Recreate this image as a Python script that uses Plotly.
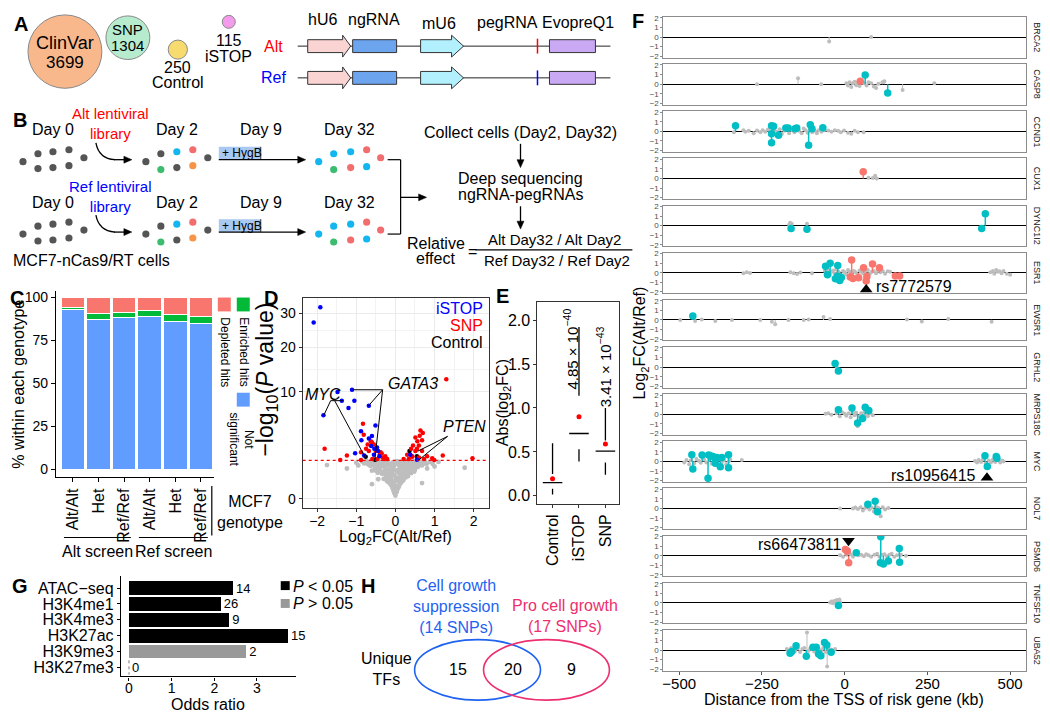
import plotly.graph_objects as go

# ======================= DATA =======================
# Panel A - library sizes
lib_names = ["ClinVar", "SNP", "Control", "iSTOP"]
lib_sizes = [3699, 1304, 250, 115]

# Panel C - % within each genotype
c_genotypes = ["Alt/Alt", "Het", "Ref/Ref", "Alt/Alt", "Het", "Ref/Ref"]
c_not_significant = [93.0, 87.3, 88.4, 88.8, 85.9, 84.9]
c_enriched = [1.0, 3.4, 2.7, 3.5, 4.3, 4.3]
c_depleted = [6.0, 9.3, 8.9, 7.7, 9.8, 10.8]

# Panel D - volcano (log2FC, -log10 P)
d_threshold = 1.301
d_istop_x = [-1.92, -2.09, -1.11, -1.48, -1.37, -1.05, -1.2, -1.84, -0.68, -0.51, -0.88, -0.6, -0.68,
             -0.62, -0.47, -0.54, -0.44, -0.41, -1.03, -0.8, -0.55, 0.38, 0.55, -0.87]
d_istop_y = [32.1, 27.2, 10.4, 10.0, 8.4, 8.4, 7.2, 6.1, 7.6, 4.7, 4.0, 3.45, 3.2,
             2.44, 2.3, 2.2, 2.0, 1.6, 1.82, 1.65, 1.7, 1.7, 1.35, 3.0]
d_snp_x = [1.3, -1.81, -1.41, -0.88, -0.83, -0.81, -1.24, -0.71, -0.63, -0.75, -0.88, -0.68, -0.38, -0.33,
           -0.29, -0.21, -0.46, -0.59, -0.26, 0.64, 0.56, 0.68, 0.45, 0.6, 0.51, 0.68, 0.3, 0.43, 0.34,
           0.21, 0.73, 0.94, 0.99, 1.21, 1.97, 0.51, 0.43, 0.6, 0.81, -0.55, -0.5, -0.4, 0.4, 0.62, 0.7,
           0.55, -0.35, -0.6]
d_snp_y = [12.5, 2.2, 1.33, 1.33, 4.93, 3.6, 1.64, 2.6, 2.9, 2.2, 1.9, 2.0, 1.9, 1.5,
           1.4, 1.4, 1.4, 1.4, 1.6, 4.1, 2.9, 3.0, 2.5, 2.5, 2.0, 2.0, 1.7, 1.55, 1.4,
           1.4, 1.4, 1.45, 1.33, 1.65, 1.45, 3.3, 1.6, 1.5, 1.6, 2.6, 2.0, 1.7, 2.2, 3.5, 3.8,
           2.2, 1.8, 2.8]
d_control_x = [-0.76, -0.52, 0.36, 0.55]
d_control_y = [1.55, 1.35, 2.0, 1.6]
d_gray_x = [-0.85, -0.8, -0.74, -0.7, -0.66, -0.62, -0.58, -0.55, -0.5, -0.47, -0.44, -0.4, -0.37, -0.34,
            -0.3, -0.27, -0.24, -0.2, -0.17, -0.15, 0.15, 0.18, 0.21, 0.24, 0.27, 0.3, 0.33, 0.36, 0.4,
            0.43, 0.47, 0.5, 0.54, 0.58, 0.62, 0.66, 0.7, 0.75, 0.8, 0.88, -0.6, -0.52, -0.45, -0.4,
            -0.34, -0.3, -0.25, -0.22, -0.18, -0.14, -0.12, -0.1, 0.1, 0.13, 0.16, 0.2, 0.23, 0.27, 0.3,
            0.34, 0.38, 0.44, 0.5, 0.58, -0.3, -0.22, -0.18, -0.14, -0.1, -0.07, -0.05, -0.03, 0.0, 0.03,
            0.05, 0.08, 0.11, 0.15, 0.2, 0.26, 0.32, -0.08, 0.08, -0.02, 0.02, 0.0, -0.05, 0.05, -0.1,
            0.1, 0.02, -0.03, 0.04, -0.08, 0.07, -0.12, 0.12, -1.75, -1.24, 1.77, 0.68, -0.6, 0.81,
            -0.44, -0.95, 1.0, 0.95, -1.0, 1.1,
            -0.72, -0.64, -0.56, -0.48, -0.42, -0.36, -0.29, -0.22, -0.16, -0.08, -0.02, 0.04, 0.09, 0.13,
            0.19, 0.26, 0.32, 0.38, 0.45, 0.52, 0.6, 0.68, 0.74, -0.5, -0.38, -0.26, -0.16, -0.06, 0.06,
            0.16, 0.24, 0.4, 0.48, -0.2, -0.12, 0.0, 0.12, 0.22, -0.04, 0.04]
d_gray_y = [1.22, 1.1, 1.25, 1.05, 1.18, 1.27, 1.0, 1.15, 1.25, 0.95, 1.1, 1.22, 0.9, 1.05,
            1.2, 0.85, 1.0, 1.15, 0.75, 0.95, 0.8, 1.0, 1.2, 0.9, 1.1, 1.25, 0.95, 1.15, 1.05,
            1.25, 0.98, 1.18, 1.1, 1.27, 1.02, 1.2, 1.12, 1.25, 1.08, 1.2, 0.7, 0.8, 0.6, 0.72,
            0.55, 0.65, 0.5, 0.6, 0.45, 0.55, 0.38, 0.3, 0.32, 0.45, 0.55, 0.62, 0.5, 0.7, 0.6,
            0.78, 0.68, 0.85, 0.75, 0.9, 0.35, 0.28, 0.25, 0.2, 0.15, 0.1, 0.06, 0.03, 0.01, 0.04,
            0.08, 0.12, 0.18, 0.24, 0.3, 0.4, 0.45, 0.22, 0.26, 0.12, 0.15, 1.1, 0.9, 1.2, 1.0,
            0.95, 0.7, 0.5, 0.4, 0.65, 0.6, 0.8, 0.75, 1.0, 0.81, 0.85, 0.22, 0.19, 0.81,
            0.34, 0.98, 0.92, 1.08, 1.15, 1.2,
            1.12, 0.95, 1.08, 1.2, 0.85, 1.12, 0.98, 1.25, 1.05, 1.15, 1.0, 1.25, 1.1, 1.2,
            0.9, 1.0, 1.15, 0.88, 1.08, 0.95, 1.15, 0.98, 1.1, 0.7, 0.62, 0.75, 0.66, 0.8, 0.72,
            0.85, 0.8, 0.58, 0.65, 0.38, 0.45, 0.35, 0.38, 0.42, 0.22, 0.3]

# Panel E - Abs(log2FC) summary
e_groups = ["Control", "iSTOP", "SNP"]
e_min = [0.015, 0.39, 0.24]
e_q1 = [0.08, 0.53, 0.38]
e_median = [0.15, 0.71, 0.51]
e_q3 = [0.25, 1.14, 0.63]
e_max = [0.60, 1.92, 1.00]
e_mean = [0.195, 0.90, 0.59]
e_pvals = ["", "4.85 × 10<sup>−40</sup>", "3.41 × 10<sup>−43</sup>"]

# Panel G - odds ratios
g_marks = ["ATAC−seq", "H3K4me1", "H3K4me3", "H3K27ac", "H3K9me3", "H3K27me3"]
g_odds = [2.44, 2.15, 2.35, 3.73, 2.75, 0.0]
g_counts = [14, 26, 9, 15, 2, 0]
g_significant = [True, True, True, True, False, False]

# Panel H - unique TFs
h_sets = ["Cell growth<br>suppression<br>(14 SNPs)", "Pro cell growth<br>(17 SNPs)"]
h_counts = [15, 20, 9]

# Panel F - facets (distance kb, log2FC)
f_genes = ["BRCA2", "CASP8", "CCND1", "CUX1", "DYNC1I2", "ESR1", "EWSR1", "GRHL2",
           "MRPS18C", "MYC", "NOL7", "PSMD6", "TNFSF10", "UBA52"]
brca2_gray = [(-47, -0.48), (80, 0.0)]
brca2_teal = []
brca2_red = []
casp8_gray = [(-265, 0), (-141, 0.62), (-71, 0), (5, 0.1), (10, -0.15), (15, 0.2), (20, -0.3), (25, 0.1),
              (30, 0.25), (35, -0.1), (40, 0.15), (45, -0.2), (52, 0.3), (58, 0.1), (66, -0.15), (72, 0.2),
              (80, 0.1), (88, -0.25), (95, -0.4), (102, 0.05), (114, 0.2), (120, 0.3), (175, -0.6), (271, 0.1)]
casp8_teal = [(62, 0.97), (130, -0.93)]
casp8_red = [(47, 0.31)]
ccnd1_gray = [(-335, -0.1), (-306, 0.1), (-300, -0.05), (-290, 0.05), (-275, -0.2), (-265, 0.08), (-255, -0.1),
              (-248, 0.12), (-240, -0.05), (-232, 0.2), (-225, -0.15), (-212, 0.1), (-205, -0.05), (-196, 0.22),
              (-190, -0.25), (-182, 0.05), (-175, 0.3), (-168, -0.2), (-160, 0.15), (-152, -0.1), (-146, 0.25),
              (-138, 0.05), (-130, -0.2), (-124, 0.3), (-118, 0.1), (-112, -0.15), (-105, 0.2), (-98, -0.1),
              (-90, 0.05), (-84, -0.2), (-78, 0.12), (-70, -0.05), (-62, 0.1), (-50, 0.08), (-40, -0.05),
              (-30, 0.1), (-20, 0.05), (-12, -0.1), (-2, 0.08), (10, -0.15), (20, -0.25), (30, 0.05),
              (40, -0.1), (57, -0.1)]
ccnd1_teal = [(-330, 0.59), (-221, 0.59), (-215, 0.52), (-221, -0.24), (-221, -1.2), (-200, -0.41),
              (-178, 0.34), (-171, 0.34), (-150, 0.28), (-145, 0.34), (-104, 0.69), (-99, 0.28),
              (-109, -1.45), (-66, 0.38)]
ccnd1_red = []
cux1_gray = [(72, 0.07), (85, 0.05), (92, 0.28), (97, 0.0)]
cux1_teal = []
cux1_red = [(56, 0.69)]
dync1i2_gray = [(-168, 0.1), (-165, 0.3), (-160, 0.2), (-114, 0.2)]
dync1i2_teal = [(-162, -0.31), (-114, -0.38), (414, -0.31), (425, 1.24)]
dync1i2_red = []
esr1_gray = [(-306, -0.05), (-296, 0.05), (-286, -0.03), (-164, 0.05), (-154, -0.05), (-144, -0.12),
             (-134, 0.02), (-99, -0.05), (-60, 0.2), (-55, -0.1), (-50, 0.3), (-45, -0.2), (-40, 0.1),
             (-35, 0.25), (-30, -0.1), (-25, 0.35), (-18, 0.1), (-12, -0.2), (-5, 0.2), (0, 0.05),
             (5, -0.15), (10, 0.3), (15, 0.1), (22, -0.1), (28, 0.2), (33, 0.05), (38, -0.2), (45, 0.25),
             (50, 0.1), (55, -0.05), (62, 0.15), (70, 0.3), (76, -0.1), (82, 0.1), (88, 0.2), (95, -0.05),
             (100, 0.3), (108, 0.05), (115, 0.2), (122, -0.1), (130, 0.15), (137, 0.1), (440, 0.05),
             (448, 0.2), (452, -0.1), (458, 0.3), (462, 0.1), (468, 0.15), (474, -0.05), (480, 0.2),
             (490, -0.1), (500, -0.2)]
esr1_teal = [(-58, 0.69), (-44, 1.0), (-21, 0.76), (-52, -0.21), (-28, -0.62), (-15, -0.8), (-10, -0.5),
             (-22, -0.38)]
esr1_red = [(21, 1.34), (17, -0.45), (25, -0.6), (42, -0.52), (57, 0.52), (67, -0.38), (65, -0.86),
            (84, 0.93), (105, 0.52), (153, -0.34), (166, -0.34)]
ewsr1_gray = [(-497, 0), (-452, -0.1), (-432, 0.05), (-391, -0.1), (-341, 0), (-255, 0), (-220, -0.2),
              (-210, -0.45), (-170, 0), (-124, 0), (-109, 0.05), (-64, 0.3), (-44, 0.1), (188, 0.05),
              (233, -0.15), (313, 0.1), (444, -0.2)]
ewsr1_teal = [(-459, 0.41)]
ewsr1_red = []
grhl2_gray = [(-24, 0.05)]
grhl2_teal = [(-29, 0.38), (-19, -0.41)]
grhl2_red = []
mrps18c_gray = [(-58, 0.05), (-50, 0.1), (-40, -0.05), (-25, 0.1), (-15, -0.2), (-8, 0.2), (0, 0.05),
                (5, -0.15), (12, 0.1), (18, -0.3), (25, 0.2), (30, -0.1), (35, 0.15), (39, -1.24),
                (45, -0.2), (50, 0.1), (55, -0.1), (60, 0.25), (65, 0.0), (70, -0.2), (78, 0.1), (85, -0.1)]
mrps18c_teal = [(-19, 0.48), (22, 0.66), (39, -0.9), (54, -0.45), (62, 0.72), (73, 0.38)]
mrps18c_red = []
myc_gray = [(-485, -0.1), (-478, 0.15), (-470, -0.3), (-465, 0.1), (-455, -0.2), (-448, 0.25), (-440, 0.05),
            (-435, -0.15), (-425, 0.2), (-418, -0.1), (-410, 0.15), (-402, -0.25), (-395, 0.1),
            (-388, -0.05), (-380, 0.2), (-372, -0.15), (-365, 0.1), (-358, -0.3), (-350, 0.05),
            (-346, 0.2), (-311, 0.14), (394, 0.05), (400, -0.1), (405, 0.15), (412, -0.05), (418, 0.2),
            (426, -0.2), (436, 0.1), (442, -0.1), (448, 0.2), (455, -0.05), (462, 0.15), (470, -0.1),
            (476, 0.1), (480, 0.0)]
myc_teal = [(-462, 0.69), (-459, -0.79), (-431, 0.66), (-413, -1.76), (-411, 0.66), (-406, 0.6),
            (-398, 0.52), (-391, -0.2), (-386, 0.41), (-376, -0.55), (-371, 0.41), (-351, 0.69),
            (-351, -0.66), (424, 0.59), (431, -0.52), (458, 0.52), (460, 0.34)]
myc_red = []
nol7_gray = [(-14, 0.0), (25, 0.0), (32, 0.1), (40, -0.05), (48, 0.15), (55, -0.2), (62, 0.05), (68, 0.2),
             (75, -0.1), (82, 0.1), (88, -0.3), (95, 0.2), (102, 0.05), (109, -0.8), (115, 0.15),
             (122, -0.1), (132, 0.05)]
nol7_teal = [(70, 0.45), (92, 0.76), (99, -0.34)]
nol7_red = []
psmd6_gray = [(-14, 0.05), (-5, -0.1), (5, 0.1), (18, 0.15), (25, -0.1), (30, 0.2), (42, 0.05), (50, 0.1),
              (58, -0.05), (65, 0.15), (72, 0.05), (80, -0.1), (90, 0.1), (98, 0.2), (105, -0.1),
              (112, 0.1), (120, 0.15), (128, -0.05), (135, 0.1), (142, 0.2), (150, -0.1), (158, 0.05),
              (170, 0.1), (185, 0.0)]
psmd6_teal = [(35, 0.31), (109, 1.97), (108, -0.72), (117, -0.86), (132, -0.55), (165, 0.76), (166, -0.69)]
psmd6_red = [(2, 0.66), (8, 0.48), (12, -0.72)]
tnfsf10_gray = [(-44, 0.05), (-40, 0.15), (-36, -0.05), (-32, 0.2), (-28, 0.1), (-24, 0.3), (-20, 0.15),
                (-16, 0.35), (-14, 0.1)]
tnfsf10_teal = [(-19, -0.28)]
tnfsf10_red = []
uba52_gray = [(-175, 0.1), (-170, -0.2), (-162, 0.2), (-155, 0.05), (-150, -0.1), (-142, 0.15),
              (-135, -0.2), (-128, 0.1), (-122, 0.2), (-114, 1.83), (-110, -0.1), (-104, 0.15),
              (-98, 0.05), (-92, -0.15), (-85, 0.2), (-78, 0.1), (-70, -0.05), (-65, 0.2), (-58, -0.2),
              (-53, -1.72), (-48, 0.1), (-40, 0.05), (-35, -0.1), (-29, 0.1)]
uba52_teal = [(-165, -0.34), (-160, -0.14), (-147, 0.45), (-116, -0.66), (-96, 0.28), (-86, 0.28),
              (-79, -0.41), (-72, -0.59), (-61, 0.79), (-54, 0.52), (-41, -0.24)]
uba52_red = []

f_gray = [brca2_gray, casp8_gray, ccnd1_gray, cux1_gray, dync1i2_gray, esr1_gray, ewsr1_gray, grhl2_gray,
          mrps18c_gray, myc_gray, nol7_gray, psmd6_gray, tnfsf10_gray, uba52_gray]
f_teal = [brca2_teal, casp8_teal, ccnd1_teal, cux1_teal, dync1i2_teal, esr1_teal, ewsr1_teal, grhl2_teal,
          mrps18c_teal, myc_teal, nol7_teal, psmd6_teal, tnfsf10_teal, uba52_teal]
f_red = [brca2_red, casp8_red, ccnd1_red, cux1_red, dync1i2_red, esr1_red, ewsr1_red, grhl2_red,
         mrps18c_red, myc_red, nol7_red, psmd6_red, tnfsf10_red, uba52_red]
# highlighted SNPs: (gene index, kb, log2FC position of marker, label, direction)
f_snp_marks = [(5, 65, -1.75, "rs7772579", "up"), (9, 430, -1.7, "rs10956415", "up"),
               (11, 11.5, 1.55, "rs66473811", "down")]

# ======================= HELPERS =======================
W, H = 1050, 722
FONT = "Liberation Sans, Arial, Helvetica, sans-serif"
shapes, annotations = [], []


def X(p):
    return p / W


def Y(p):
    return 1 - p / H


def text(x, y, s, size=16, color="black", xa="center", ya="middle", angle=0, bold=False):
    if bold:
        s = "<b>" + s + "</b>"
    annotations.append(dict(x=X(x), y=Y(y), xref="paper", yref="paper", text=s, showarrow=False,
                            font=dict(size=size, color=color, family=FONT), xanchor=xa, yanchor=ya,
                            textangle=angle, borderpad=0))


def line(x0, y0, x1, y1, color="black", width=1.2, dash=None):
    shapes.append(dict(type="line", xref="paper", yref="paper", x0=X(x0), y0=Y(y0), x1=X(x1), y1=Y(y1),
                       line=dict(color=color, width=width, dash=dash)))


def rect(x0, y0, x1, y1, fill, lc="#333333", lw=1):
    shapes.append(dict(type="rect", xref="paper", yref="paper", x0=X(x0), y0=Y(y1), x1=X(x1), y1=Y(y0),
                       fillcolor=fill, line=dict(color=lc, width=lw)))


def circle(cx, cy, r, fill, lc="#888888", lw=1):
    shapes.append(dict(type="circle", xref="paper", yref="paper", x0=X(cx - r), x1=X(cx + r),
                       y0=Y(cy + r), y1=Y(cy - r), fillcolor=fill, line=dict(color=lc, width=lw)))


def ellipse(x0, y0, x1, y1, color, lw=1.6):
    shapes.append(dict(type="circle", xref="paper", yref="paper", x0=X(x0), x1=X(x1), y0=Y(y1), y1=Y(y0),
                       fillcolor="rgba(0,0,0,0)", line=dict(color=color, width=lw)))


def path(d, fill="rgba(0,0,0,0)", lc="#333333", lw=1):
    shapes.append(dict(type="path", xref="paper", yref="paper", path=d, fillcolor=fill,
                       line=dict(color=lc, width=lw)))


def poly(points, fill, lc="#333333", lw=1):
    d = "M " + " L ".join(f"{X(a):.5f},{Y(b):.5f}" for a, b in points) + " Z"
    path(d, fill, lc, lw)


def arrow(x0, y0, x1, y1, width=1.3, color="black", hl=8, hw=3.5):
    dx, dy = x1 - x0, y1 - y0
    L = (dx * dx + dy * dy) ** 0.5
    ux, uy = dx / L, dy / L
    bx, by = x1 - ux * hl, y1 - uy * hl
    line(x0, y0, bx + ux * 1, by + uy * 1, color, width)
    nx, ny = -uy, ux
    poly([(x1, y1), (bx + nx * hw, by + ny * hw), (bx - nx * hw, by - ny * hw)], color, lc=color, lw=0.5)


# ======================= PANEL A =======================
text(20, 21, "A", 20, bold=True)
lib_colors = ["#F9B88C", "#B7EBCD", "#F8DB6F", "#F29CEB"]
r_max = 37
lib_centers = [(64, 49), (127, 35), (177, 47), (228, 19)]
for name, n, col, (cx, cy) in zip(lib_names, lib_sizes, lib_colors, lib_centers):
    circle(cx, cy, r_max * (n / lib_sizes[0]) ** 0.5, col)
text(64, 40, lib_names[0], 18)
text(64, 60, str(lib_sizes[0]), 17)
text(127, 27, lib_names[1], 15)
text(127, 43, str(lib_sizes[1]), 15)
text(177, 65, str(lib_sizes[2]), 16)
text(177, 80, lib_names[2], 16)
text(228, 38, str(lib_sizes[3]), 16)
text(228, 54, lib_names[3], 16)

for yc, lab, col, tick in [(43.5, "Alt", "red", "red"), (75.5, "Ref", "blue", "blue")]:
    text(273, yc, lab, 16, color=col)
    line(297, yc, 610, yc, "#222222", 1)
    poly([(307, yc - 6.5), (342, yc - 6.5), (342, yc - 11), (350, yc), (342, yc + 11), (342, yc + 6.5),
          (307, yc + 6.5)], "#FAD3D3")
    rect(352, yc - 6.5, 396, yc + 6.5, "#6DA4EE")
    poly([(420, yc - 6.5), (451, yc - 6.5), (451, yc - 11), (463, yc), (451, yc + 11), (451, yc + 6.5),
          (420, yc + 6.5)], "#B2F0FD")
    line(537, yc - 7.5, 537, yc + 7.5, tick, 1.5)
    rect(549, yc - 6.5, 595, yc + 6.5, "#C9A9F3")
text(322, 17, "hU6", 16)
text(373, 17, "ngRNA", 16)
text(438, 21, "mU6", 16)
text(507, 20, "pegRNA", 16)
text(578, 20, "EvopreQ1", 16)

# ======================= PANEL B =======================
text(19, 118, "B", 20, bold=True)
dot_col = {"g": "#555555", "c": "#14B6EF", "r": "#F26E6E", "G": "#3DBB6E", "o": "#F79447"}
day0 = [(22, 160), (37, 152), (37, 167), (52, 150), (52, 166), (68, 148), (68, 164), (83, 156)]
day2 = [(145, 160, "g"), (160, 152, "g"), (160, 168, "G"), (176, 150, "c"), (176, 166, "g"),
        (192, 148, "r"), (192, 164, "o"), (207, 156, "g")]
day32 = [(318, 160, "c"), (333, 152, "c"), (333, 168, "G"), (350, 150, "c"), (350, 166, "r"),
         (366, 148, "r"), (366, 165, "c"), (380, 156, "r")]
for dy, lib_lab, lib_col in [(0, "Alt lentiviral<br>library", "red"), (73, "Ref lentiviral<br>library", "blue")]:
    for (a, b) in day0:
        circle(a, b + dy, 3.6, dot_col["g"], lc=dot_col["g"], lw=0)
    for (a, b, c) in day2 + day32:
        circle(a, b + dy, 3.6, dot_col[c], lc=dot_col[c], lw=0)
    text(52, 128 + dy, "Day 0", 16)
    text(176, 128 + dy, "Day 2", 16)
    text(260, 128 + dy, "Day 9", 16)
    text(349, 128 + dy, "Day 32", 16)
    text(110, 122 + dy, lib_lab, 15, color=lib_col)
    path(f"M {X(95):.5f},{Y(141 + dy):.5f} Q {X(98):.5f},{Y(157 + dy):.5f} {X(114):.5f},{Y(158 + dy):.5f}",
         lc="black", lw=1.3)
    arrow(113, 158 + dy, 131, 158 + dy, 1.3)
    rect(218, 145 + dy, 260, 158 + dy, "#A9C9F2", lc="rgba(0,0,0,0)", lw=0)
    line(260, 145 + dy, 260, 158 + dy, "#333333", 1)
    text(220, 151.5 + dy, "+ HygB", 12, xa="left")
    arrow(218, 158 + dy, 305, 158 + dy, 1.3)
line(387, 158, 400, 158)
line(387, 233, 400, 233)
line(400, 158, 400, 233)
arrow(400, 196, 426, 196, 1.3)
text(91, 260, "MCF7-nCas9/RT cells", 16)
text(520, 131, "Collect cells (Day2, Day32)", 16)
arrow(520, 142, 520, 166, 1.3)
text(520, 177, "Deep sequencing", 16)
text(520, 193, "ngRNA-pegRNAs", 16)
arrow(520, 205, 520, 228, 1.3)
text(435, 243, "Relative", 16)
text(435, 258, "effect", 16)
text(472, 251, "=", 16)
text(554, 238, "Alt Day32 / Alt Day2", 15)
line(475, 249, 632, 249, "black", 1.2)
text(557, 260, "Ref Day32 / Ref Day2", 15)

# ======================= PANEL C =======================
text(16, 297, "C", 20, bold=True)
fig = go.Figure()
c_pos = list(range(len(c_genotypes)))
for vals, col in [(c_not_significant, "#619CFF"), (c_enriched, "#00BA38"), (c_depleted, "#F8766D")]:
    fig.add_trace(go.Bar(x=c_pos, y=vals, width=0.92, marker=dict(color=col, line=dict(color="white", width=1)),
                         xaxis="x", yaxis="y", hoverinfo="skip"))
rect(217, 297, 230, 311, "#F8766D", lc="rgba(0,0,0,0)", lw=0)
rect(236, 297, 249, 311, "#00BA38", lc="rgba(0,0,0,0)", lw=0)
rect(236, 393, 249, 407, "#619CFF", lc="rgba(0,0,0,0)", lw=0)
text(224, 352, "Depleted hits", 12, angle=90)
text(243, 352, "Enriched hits", 12, angle=90)
text(240, 440, "Not<br>significant", 12, angle=90)
text(18, 384, "% within each genotype", 16, angle=-90)
line(63, 539, 130, 539, "black", 1.2)
line(138, 539, 207, 539, "black", 1.2)
text(97, 553, "Alt screen", 16)
text(173, 553, "Ref screen", 16)
line(211, 487, 211, 537, "black", 1.2)
text(249, 513, "MCF7<br>genotype", 16)

# ======================= PANEL D =======================
text(270, 297, "D", 20, bold=True)
sq = lambda v: [a ** 0.5 for a in v]
fig.add_trace(go.Scatter(x=d_gray_x, y=sq(d_gray_y), mode="markers", marker=dict(color="#BEBEBE", size=4.8),
                         xaxis="x2", yaxis="y2", hoverinfo="skip"))
fig.add_trace(go.Scatter(x=d_control_x, y=sq(d_control_y), mode="markers", marker=dict(color="black", size=4.5),
                         xaxis="x2", yaxis="y2", hoverinfo="skip"))
fig.add_trace(go.Scatter(x=d_snp_x, y=sq(d_snp_y), mode="markers", marker=dict(color="#FF0000", size=4.5),
                         xaxis="x2", yaxis="y2", hoverinfo="skip"))
fig.add_trace(go.Scatter(x=d_istop_x, y=sq(d_istop_y), mode="markers", marker=dict(color="#0000FF", size=4.5),
                         xaxis="x2", yaxis="y2", hoverinfo="skip"))
shapes.append(dict(type="line", xref="x2 domain", yref="y2", x0=0, x1=1, y0=d_threshold ** 0.5,
                   y1=d_threshold ** 0.5, line=dict(color="#FF0000", width=1.2, dash="dot")))
text(483, 308, "iSTOP", 16, color="#0000FF", xa="right")
text(483, 325, "SNP", 16, color="#FF0000", xa="right")
text(483, 342, "Control", 16, color="black", xa="right")
text(322, 395, "<i>MYC</i>", 16)
text(412, 384, "<i>GATA3</i>", 16)
text(464, 427, "<i>PTEN</i>", 16)
for a, b, c, d in [(330, 401, 342, 401), (330, 401, 323, 416), (334, 401, 365, 459),
                   (382, 390, 352, 390), (382, 390, 368, 406), (382, 390, 374, 462),
                   (447, 437, 417, 452), (447, 437, 418, 461)]:
    line(a, b, c, d, "black", 1)
text(266, 380, "−log<sub>10</sub>(<i>P</i> value)", 23, angle=-90)
text(395, 539, "Log<sub>2</sub>FC(Alt/Ref)", 16)

# ======================= PANEL E =======================
text(502, 295, "E", 20, bold=True)
ex, ey = [], []
for i in range(len(e_groups)):
    p = i + 1
    ex += [p, p, None, p, p, None, p - 0.37, p + 0.37, None]
    ey += [e_min[i], e_q1[i], None, e_q3[i], e_max[i], None, e_median[i], e_median[i], None]
fig.add_trace(go.Scatter(x=ex, y=ey, mode="lines", line=dict(color="black", width=1.3),
                         xaxis="x3", yaxis="y3", hoverinfo="skip"))
fig.add_trace(go.Scatter(x=[1, 2, 3], y=e_mean, mode="markers", marker=dict(color="#FF0000", size=5),
                         xaxis="x3", yaxis="y3", hoverinfo="skip"))
text(570, 349, e_pvals[1], 15, angle=-90)
text(604, 367, e_pvals[2], 15, angle=-90)
text(503, 403, "Abs(log<sub>2</sub>FC)", 16, angle=-90)

# ======================= PANEL G =======================
text(19, 588, "G", 20, bold=True)
fig.add_trace(go.Bar(x=g_odds, y=list(range(len(g_marks))), orientation="h", width=0.87,
                     marker=dict(color=["black" if s else "#999999" for s in g_significant], line=dict(width=0)),
                     text=[str(c) for c in g_counts], textposition="outside",
                     textfont=dict(size=16, color="black", family=FONT), cliponaxis=False,
                     xaxis="x4", yaxis="y4", hoverinfo="skip"))
shapes.append(dict(type="line", xref="x4", yref="y4", x0=0, x1=0, y0=4.55, y1=5.45,
                   line=dict(color="#777777", width=1, dash="dot")))
rect(280, 583, 289, 592, "black", lc="black", lw=0)
rect(280, 601, 289, 610, "#999999", lc="#999999", lw=0)
text(291, 588, "<i>P</i> < 0.05", 16, xa="left")
text(291, 606, "<i>P</i> > 0.05", 16, xa="left")
text(207, 707, "Odds ratio", 16)

# ======================= PANEL H =======================
text(367, 588, "H", 20, bold=True)
text(455, 609, h_sets[0], 16, color="#1F63F0")
text(565, 618, h_sets[1], 16, color="#EE2E6E")
ellipse(414, 642, 540, 703, "#1F63F0")
ellipse(483, 642, 609, 703, "#EE2E6E")
text(457, 672, str(h_counts[0]), 16)
text(512, 672, str(h_counts[1]), 16)
text(571, 672, str(h_counts[2]), 16)
text(386, 672, "Unique<br>TFs", 16)

# ======================= PANEL F =======================
text(638, 18, "F", 20, bold=True)
F_TOP, F_STEP, F_H = 14, 47.55, 41
n_f = len(f_genes)
for i, gene in enumerate(f_genes):
    k = i + 5
    ax_x, ax_y = f"x{k}", f"y{k}"
    for pts, col, msize, lw in [(f_gray[i], "#BDBDBD", 4, 1), (f_teal[i], "#00BFC4", 7.5, 1.5),
                                (f_red[i], "#F8766D", 7.5, 1.5)]:
        if not pts:
            continue
        sx, sy = [], []
        for a, b in pts:
            sx += [a, a, None]
            sy += [0, b, None]
        fig.add_trace(go.Scatter(x=sx, y=sy, mode="lines", line=dict(color=col, width=lw),
                                 xaxis=ax_x, yaxis=ax_y, hoverinfo="skip"))
        fig.add_trace(go.Scatter(x=[p[0] for p in pts], y=[p[1] for p in pts], mode="markers",
                                 marker=dict(color=col, size=msize), xaxis=ax_x, yaxis=ax_y, hoverinfo="skip"))
    top = F_TOP + F_STEP * i
    text(1037, top + F_H / 2, gene, 9, color="#1A1A1A", angle=90)
for gi, kb, yv, lab, direc in f_snp_marks:
    k = gi + 5
    fig.add_trace(go.Scatter(x=[kb], y=[yv], mode="markers",
                             marker=dict(symbol="triangle-" + direc, color="black", size=11),
                             xaxis=f"x{k}", yaxis=f"y{k}", hoverinfo="skip", cliponaxis=False))
text(875, 286, f_snp_marks[0][3], 16, xa="left")
text(977, 476, f_snp_marks[1][3], 16, xa="right")
text(842, 546, f_snp_marks[2][3], 16, xa="right")
text(640, 343, "Log<sub>2</sub>FC(Alt/Ref)", 16, angle=-90)
text(844, 702, "Distance from the TSS of risk gene (kb)", 16)

# ======================= LAYOUT =======================
def dom_x(a, b):
    return [X(a), X(b)]


def dom_y(top, bottom):
    return [Y(bottom), Y(top)]


tickfont = dict(size=14, color="black", family=FONT)
layout = dict(width=W, height=H, margin=dict(l=0, r=0, t=0, b=0), paper_bgcolor="white",
              plot_bgcolor="rgba(0,0,0,0)", showlegend=False, barmode="stack",
              font=dict(family=FONT, size=14, color="black"))

# C axes
layout["xaxis"] = dict(domain=dom_x(55, 213), range=[-0.66, 5.5], tickvals=c_pos, ticktext=c_genotypes,
                       tickangle=-90, showline=True, linecolor="black", linewidth=1.3, ticks="outside",
                       ticklen=4, tickcolor="black", showgrid=False, zeroline=False, anchor="y",
                       tickfont=dict(size=16, color="black", family=FONT))
layout["yaxis"] = dict(domain=dom_y(290, 478), range=[-4.6, 104], tickvals=[0, 25, 50, 75, 100],
                       showline=True, linecolor="black", linewidth=1.3, ticks="outside", ticklen=4,
                       tickcolor="black", showgrid=False, zeroline=False, anchor="x", tickfont=tickfont)
# D axes
layout["xaxis2"] = dict(domain=dom_x(302, 488), range=[-2.37, 2.38], tickvals=[-2, -1, 0, 1, 2],
                        ticktext=["−2", "−1", "0", "1", "2"], showline=True, mirror=True, linecolor="#333333",
                        linewidth=1.3, ticks="outside", ticklen=3, tickcolor="#333333", showgrid=True,
                        gridcolor="#EBEBEB", gridwidth=1, zeroline=False, anchor="y2", tickfont=tickfont,
                        ticklabelstandoff=-3,
                        minor=dict(tickvals=[-1.5, -0.5, 0.5, 1.5], showgrid=True, gridcolor="#F3F3F3",
                                   gridwidth=0.6))
layout["yaxis2"] = dict(domain=dom_y(297, 509), range=[-0.26, 5.95],
                        tickvals=[0, 10 ** 0.5, 20 ** 0.5, 30 ** 0.5], ticktext=["0", "10", "20", "30"],
                        showline=True, mirror=True, linecolor="#333333", linewidth=1.3, ticks="outside",
                        ticklen=3, tickcolor="#333333", showgrid=True, gridcolor="#EBEBEB", gridwidth=1,
                        zeroline=False, anchor="x2", tickfont=tickfont,
                        minor=dict(tickvals=[1.58, 3.82, 4.97], showgrid=True, gridcolor="#F3F3F3",
                                   gridwidth=0.6))
# E axes
layout["xaxis3"] = dict(domain=dom_x(537, 619), range=[0.43, 3.53], tickvals=[1, 2, 3], ticktext=e_groups,
                        tickangle=-90, showline=True, mirror=True, linecolor="#333333", linewidth=1.3,
                        ticks="outside", ticklen=3, tickcolor="#333333", showgrid=False, zeroline=False,
                        anchor="y3", tickfont=dict(size=16, color="black", family=FONT))
layout["yaxis3"] = dict(domain=dom_y(302, 505), range=[-0.09, 2.2], tickvals=[0, 0.5, 1, 1.5, 2],
                        ticktext=["0.0", "0.5", "1.0", "1.5", "2.0"], showline=True, mirror=True,
                        linecolor="#333333", linewidth=1.3, ticks="outside", ticklen=3, tickcolor="#333333",
                        showgrid=False, zeroline=False, anchor="x3",
                        tickfont=dict(size=16, color="black", family=FONT))
# G axes
layout["xaxis4"] = dict(domain=dom_x(120, 295), range=[-0.19, 3.91], tickvals=[0, 1, 2, 3], showline=True,
                        linecolor="black", linewidth=1.3, ticks="outside", ticklen=3, tickcolor="black",
                        showgrid=False, zeroline=False, anchor="y4", tickfont=tickfont, ticklabelstandoff=-4)
layout["yaxis4"] = dict(domain=dom_y(578, 679), range=[5.56, -0.75], tickvals=list(range(len(g_marks))),
                        ticktext=g_marks, showline=True, linecolor="black", linewidth=1.3, ticks="outside",
                        ticklen=3, tickcolor="black", showgrid=False, zeroline=False, anchor="x4",
                        tickfont=dict(size=16, color="black", family=FONT))
# F axes
for i in range(n_f):
    k = i + 5
    top = F_TOP + F_STEP * i
    last = i == n_f - 1
    layout[f"xaxis{k}"] = dict(domain=dom_x(663, 1026), range=[-548, 548], tickvals=[-500, -250, 0, 250, 500],
                               ticktext=["−500", "−250", "0", "250", "500"], showticklabels=last,
                               ticks="outside" if last else "", ticklen=3, tickcolor="#555555",
                               showline=True, mirror=True, linecolor="#8C8C8C", linewidth=1, showgrid=False,
                               zeroline=False, anchor=f"y{k}", ticklabelstandoff=-4,
                               tickfont=dict(size=15, color="black", family=FONT))
    layout[f"yaxis{k}"] = dict(domain=dom_y(top, top + F_H), range=[-2.14, 2.1], tickvals=[-2, -1, 0, 1, 2],
                               ticktext=["−2", "−1", "0", "1", "2"], ticks="outside", ticklen=2,
                               tickcolor="#8C8C8C", showline=True, mirror=True, linecolor="#8C8C8C",
                               linewidth=1, showgrid=False, zeroline=True, zerolinecolor="black",
                               zerolinewidth=1.3, anchor=f"x{k}",
                               tickfont=dict(size=8, color="#4D4D4D", family=FONT))

layout["shapes"] = shapes
layout["annotations"] = annotations
fig.update_layout(**layout)
fig.write_html("out.html", config={"displayModeBar": False},
               post_script="document.body.style.margin='0px';document.body.style.overflow='hidden';")
